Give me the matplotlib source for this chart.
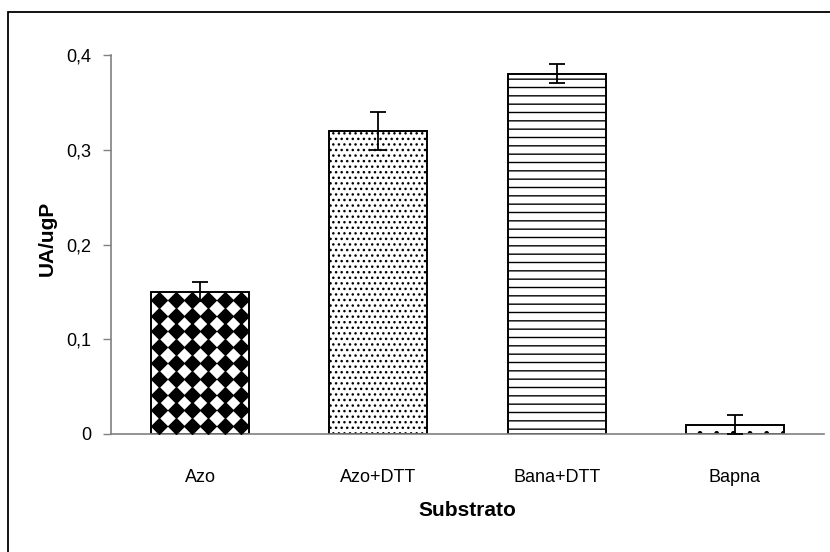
import matplotlib

matplotlib.use("Agg")
import matplotlib.pyplot as plt
import numpy as np
from matplotlib.patches import Rectangle
from matplotlib.ticker import FuncFormatter

plt.rcParams["font.family"] = ["Liberation Sans", "DejaVu Sans"]
plt.rcParams["hatch.color"] = "#555555"

# ── data ──────────────────────────────────────────────────────────────
categories = ["Azo", "Azo+DTT", "Bana+DTT", "Bapna"]
values = [0.15, 0.32, 0.38, 0.01]
errors = [0.01, 0.02, 0.01, 0.01]
y_ticks = [0, 0.1, 0.2, 0.3, 0.4]

W, H = 830, 552
fig = plt.figure(figsize=(W / 100, H / 100), dpi=100)
ax = fig.add_axes([111 / W, 1 - 434 / H, 713 / W, 379 / H])

# outer frame (only left and top edges fall inside the image)
fig.patches.append(Rectangle((8 / W, -0.1), 1.2, 1 - 12 / H + 0.1, transform=fig.transFigure,
                             fill=False, edgecolor="black", linewidth=1.3))

x = np.arange(len(categories))
hatches = ["", "...", "--", "."]
bars = ax.bar(x, values, width=0.55, color="white", edgecolor="black", linewidth=1.4, zorder=2)
for b, h in zip(bars, hatches):
    b.set_hatch(h)

# diamond checker pattern for the first bar
b0 = bars[0]
bx0, bw, bh = b0.get_x(), b0.get_width(), b0.get_height()
nx, ny = 6, 9
gx = bx0 + (np.arange(nx) + 0.5) * bw / nx
gy = (np.arange(ny) + 0.5) * bh / ny
GX, GY = np.meshgrid(gx, gy)
sc = ax.scatter(GX.ravel(), GY.ravel(), marker="D", s=80, color="black", linewidths=0, zorder=3)
sc.set_clip_path(b0)

ax.errorbar(x, values, yerr=errors, fmt="none", ecolor="black", elinewidth=1.3,
            capsize=6, capthick=1.3, zorder=4)

ax.set_xlim(-0.5, 3.5)
ax.set_ylim(0, 0.4)
ax.set_yticks(y_ticks)
ax.yaxis.set_major_formatter(FuncFormatter(lambda v, _: "0" if v == 0 else f"{v:.1f}".replace(".", ",")))
ax.set_xticks(x)
ax.set_xticklabels(categories)
ax.tick_params(axis="x", length=0, pad=25, labelsize=13)
ax.tick_params(axis="y", length=6, width=1, color="#808080", pad=8, labelsize=13)

for side in ("top", "right"):
    ax.spines[side].set_visible(False)
for side in ("left", "bottom"):
    ax.spines[side].set_color("#808080")
    ax.spines[side].set_linewidth(1.2)

ax.set_ylabel("UA/ugP", fontsize=15, fontweight="bold")
ax.set_xlabel("Substrato", fontsize=15, fontweight="bold")
ax.yaxis.set_label_coords((47 - 111) / 713, (434 - 238) / 379)
ax.xaxis.set_label_coords((467 - 111) / 713, -(511 - 434) / 379)
ax.xaxis.label.set_va("center")
ax.yaxis.label.set_va("center")

fig.savefig("out.png", dpi=100)
